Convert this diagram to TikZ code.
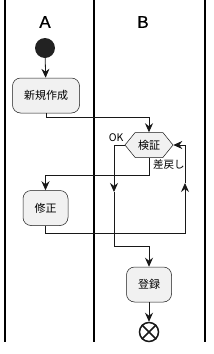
\documentclass[tikz,border=0pt]{standalone}
\usepackage{fontspec}
\setmainfont{Liberation Sans}
\newfontfamily\jpfont{Noto Sans CJK JP}
\newfontfamily\titlefont[BoldFont=Liberation Sans, BoldFeatures={FakeBold=0.8}]{Liberation Sans}
\usepackage{xcolor}
\usepackage{tikz}
\usetikzlibrary{shapes.symbols, arrows.meta, positioning, calc}
\definecolor{umlfill}{HTML}{F1F1F1}
\definecolor{umlline}{HTML}{181818}
\definecolor{umldot}{HTML}{222222}

\begin{document}
\begin{tikzpicture}[
    x=1pt, y=-1pt,
    act/.style={
      rectangle, rounded corners=8pt, draw=umlline, fill=umlfill, line width=0.5pt,
      font=\jpfont\fontsize{11}{13}\selectfont, minimum height=35pt,
      inner xsep=11.5pt, inner ysep=0pt
    },
    cond/.style={
      signal, signal to=west and east, signal pointer angle=102, draw=umlline,
      fill=umlfill, line width=0.5pt, font=\jpfont\fontsize{11}{13}\selectfont,
      minimum width=48pt, minimum height=25pt, inner sep=0pt
    },
    flow/.style={-{Stealth[length=9pt, width=8pt, inset=3pt]}, umlline, line width=0.8pt},
    lane/.style={line width=1.2pt},
    title/.style={font=\titlefont\bfseries\fontsize{17}{20}\selectfont, inner sep=0pt},
    lbl/.style={font=\jpfont\fontsize{10.5}{12}\selectfont, inner sep=0pt},
  ]
  \useasboundingbox (0,0) rectangle (214,354);
  \draw[lane] (5,0) -- (5,342);
  \draw[lane] (94,0) -- (94,342);
  \draw[lane] (205,0) -- (205,342);
  \node[title] (laneA) at (45,22) {A};
  \node[title] (laneB) at (143,22) {B};

  \node[circle, fill=umldot, minimum size=20pt, inner sep=0pt] (start) at (45,48) {};
  \node[act] (create) at (46,95.5) {新規作成};
  \node[cond] (check) at (149,145) {検証};
  \node[act] (fix) at (45.5,208) {修正};
  \node[act] (reg) at (149,284.5) {登録};
  \node[circle, draw=umlline, line width=1.5pt, minimum size=19pt, inner sep=0pt] (stop) at (149,332) {};
  \draw[umlline, line width=1.5pt] (stop.north east) -- (stop.south west)
    (stop.north west) -- (stop.south east);

  \node[lbl, anchor=south east] (ok) at ([xshift=-1pt, yshift=3pt]check.west) {OK};
  \node[lbl, anchor=north west] (back) at ([xshift=4pt, yshift=-2pt]check.south) {差戻し};

  \coordinate (okmid) at (114,192);
  \coordinate (okturn) at (149,246);
  \coordinate (backmid) at (185,183);

  \draw[flow] (start) -- (create);
  \draw[flow] (create.south) -- ++(0,4) -| (check.north);
  \draw[flow] (check.west) -| (okmid);
  \draw[flow] (okmid) |- (okturn) -- (reg.north);
  \draw[flow] (check.south) -- ++(0,18) -| (fix.north);
  \draw[flow] (fix.south) -- ++(0,8) -| (backmid);
  \draw[flow] (backmid) |- (check.east);
  \draw[flow] (reg) -- (stop);
\end{tikzpicture}
\end{document}
